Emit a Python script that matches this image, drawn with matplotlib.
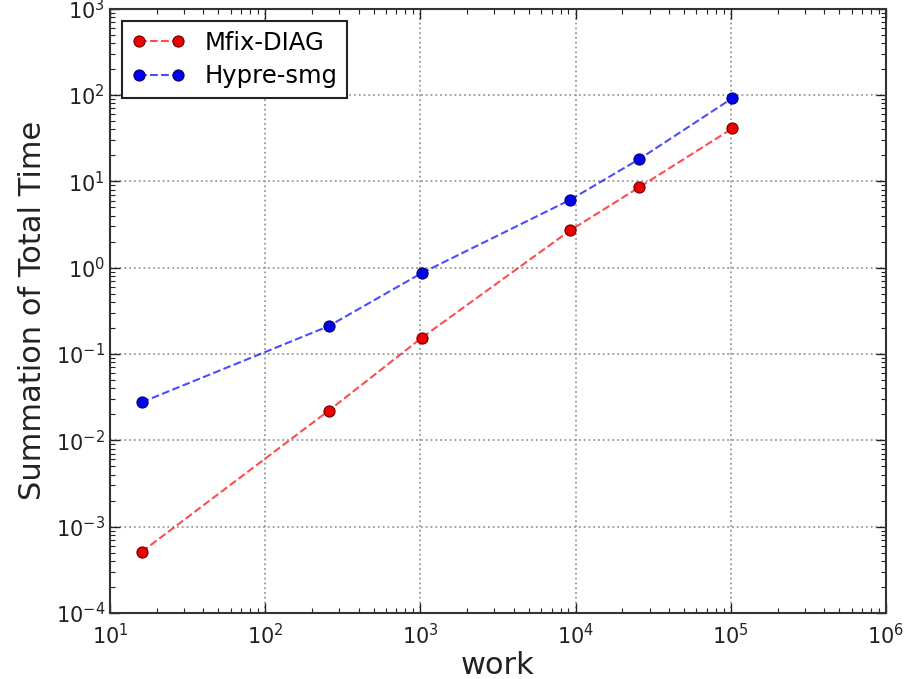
import matplotlib
matplotlib.use("Agg")
import matplotlib.pyplot as plt

# ===========================
# DATA
# ===========================

work = [16, 256, 1024, 9216, 25600, 102400]
mfix_diag = [5.1e-4, 0.022, 0.155, 2.7, 8.5, 41]
hypre_smg = [0.0276, 0.21, 0.87, 6.1, 18, 92]

# ===========================
# PLOT
# ===========================

fig = plt.figure(figsize=(9.21, 6.79), dpi=100)
ax = fig.add_axes([0.1194, 0.0972, 0.8426, 0.8900])

# translucent dashed line, solid markers (old matplotlib look)
ax.plot(work, mfix_diag, "--o", color=(1, 0, 0, 0.7), lw=1.5, ms=8,
        mfc="#ee0000", mec="#660000", mew=0.8, label="Mfix-DIAG")
ax.plot(work, hypre_smg, "--o", color=(0, 0, 1, 0.7), lw=1.5, ms=8,
        mfc="#0000ee", mec="#000066", mew=0.8, label="Hypre-smg")

ax.set_xscale("log")
ax.set_yscale("log")
ax.set_xlim(1e1, 1e6)
ax.set_ylim(1e-4, 1e3)

ax.grid(True, which="major", linestyle=":", color="#999999", lw=1.3)
ax.tick_params(which="both", direction="in", top=True, right=True,
               labelsize=15, colors="#222222")
ax.tick_params(which="major", length=7, width=1)
ax.tick_params(which="minor", length=3.5, width=0.8)
ax.tick_params(axis="x", pad=7)
for s in ax.spines.values():
    s.set_linewidth(1.5)
    s.set_color("#333333")

ax.set_xlabel("work", fontsize=22, color="#222222", labelpad=2)
ax.set_ylabel("Summation of Total Time", fontsize=22, color="#222222", labelpad=6)

leg = ax.legend(loc="upper left", numpoints=2, fontsize=17.5, fancybox=False,
                framealpha=1, edgecolor="#222222", borderpad=0.4,
                handlelength=2.2, labelspacing=0.4)
leg.get_frame().set_linewidth(1.5)

fig.savefig("out.png", dpi=100)
